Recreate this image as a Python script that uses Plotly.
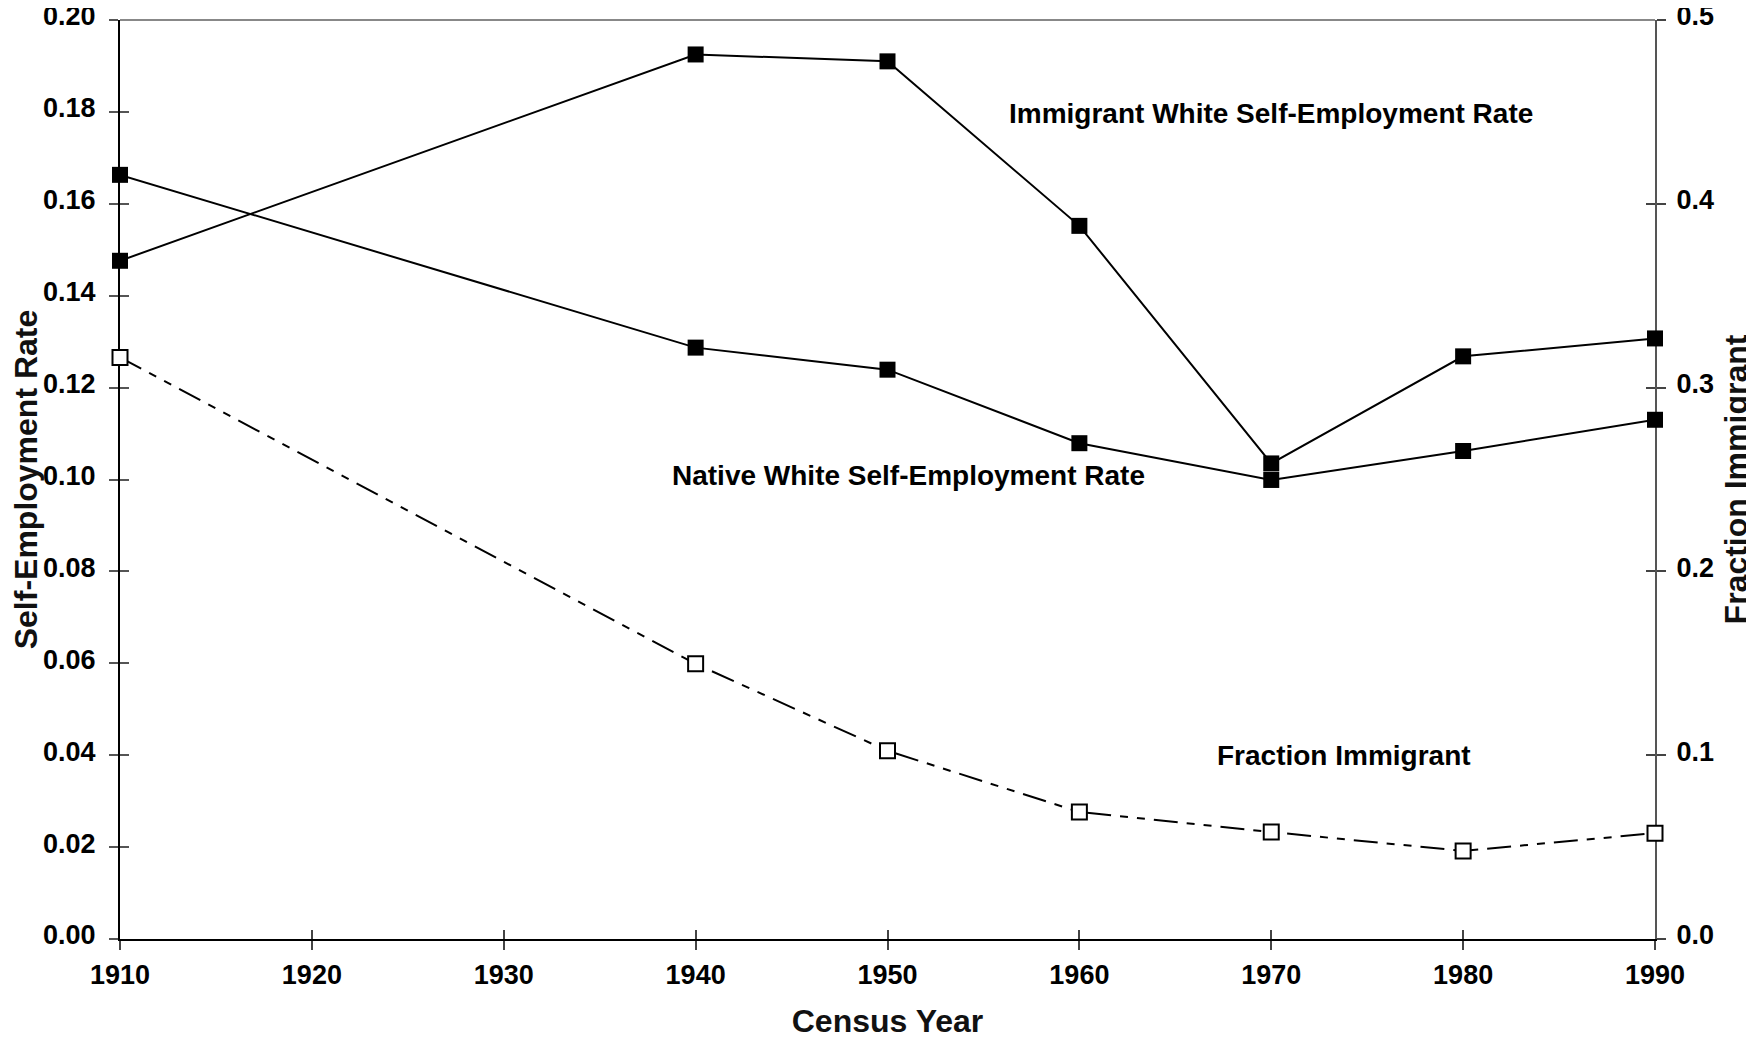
import plotly.graph_objects as go

years = [1910, 1940, 1950, 1960, 1970, 1980, 1990]
immigrant_rate = [0.1476, 0.1925, 0.1910, 0.1552, 0.1035, 0.1268, 0.1307]
native_rate = [0.1663, 0.1287, 0.1239, 0.1079, 0.0999, 0.1062, 0.1130]
fraction_immigrant = [0.3164, 0.1497, 0.1024, 0.0691, 0.0582, 0.0479, 0.0576]

x_ticks = [1910, 1920, 1930, 1940, 1950, 1960, 1970, 1980, 1990]
left_ticks = [0.00, 0.02, 0.04, 0.06, 0.08, 0.10, 0.12, 0.14, 0.16, 0.18, 0.20]
right_ticks = [0.0, 0.1, 0.2, 0.3, 0.4, 0.5]

labels = {
    "immigrant": ("Immigrant White Self-Employment Rate", 1970.0, 0.1797),
    "native": ("Native White Self-Employment Rate", 1951.1, 0.1008),
    "fraction": ("Fraction Immigrant", 1973.8, 0.0400),
}

FONT = "Liberation Sans, Arial, sans-serif"

fig = go.Figure()

fig.add_trace(go.Scatter(
    x=years, y=immigrant_rate, mode="lines+markers", name="Immigrant",
    line=dict(color="black", width=2),
    marker=dict(symbol="square", size=16, color="black"),
    cliponaxis=False, showlegend=False,
))
fig.add_trace(go.Scatter(
    x=years, y=native_rate, mode="lines+markers", name="Native",
    line=dict(color="black", width=2),
    marker=dict(symbol="square", size=16, color="black"),
    cliponaxis=False, showlegend=False,
))
fig.add_trace(go.Scatter(
    x=years, y=fraction_immigrant, mode="lines+markers", name="Fraction",
    yaxis="y2",
    line=dict(color="black", width=2, dash="24px,9px,8px,9px,8px,9px"),
    marker=dict(symbol="square", size=15, color="white",
                line=dict(color="black", width=2)),
    cliponaxis=False, showlegend=False,
))
# helper traces so the inside-tick overlay axes are drawn
fig.add_trace(go.Scatter(x=[], y=[], xaxis="x2", yaxis="y", showlegend=False, hoverinfo="skip"))
fig.add_trace(go.Scatter(x=[], y=[], xaxis="x", yaxis="y3", showlegend=False, hoverinfo="skip"))
fig.add_trace(go.Scatter(x=[], y=[], xaxis="x", yaxis="y4", showlegend=False, hoverinfo="skip"))

tickfont = dict(family=FONT, size=27, color="black", weight="bold")
titlefont = dict(family=FONT, size=32, color="#111", weight="bold")

for key, (txt, xx, yy) in labels.items():
    fig.add_annotation(x=xx, y=yy, xref="x", yref="y", text=txt, showarrow=False,
                       font=dict(family=FONT, size=28, color="black", weight="bold"),
                       xanchor="center", yanchor="middle")

# the page body adds an 8px offset, so the figure is 8px smaller than the window
fig.update_layout(
    width=1746, height=1032,
    margin=dict(l=112, r=99, t=12, b=101),
    paper_bgcolor="white", plot_bgcolor="white",
    xaxis=dict(range=[1910, 1990], tickvals=x_ticks, ticks="outside", ticklen=9,
               tickwidth=1.5, tickcolor="#444", showline=True, linecolor="black",
               linewidth=2, showgrid=False, zeroline=False, tickfont=tickfont,
               ticklabelstandoff=2, layer="below traces", automargin=False,
               ticklabeloverflow="allow",
               title=dict(text="Census Year", font=titlefont, standoff=20)),
    xaxis2=dict(range=[1910, 1990], overlaying="x", anchor="y", side="bottom",
                tickvals=x_ticks, ticks="inside", ticklen=9, tickwidth=1.5,
                tickcolor="#444", showticklabels=False, showline=False,
                showgrid=False, zeroline=False, layer="below traces", automargin=False),
    yaxis=dict(range=[0, 0.2], tickvals=left_ticks, tickformat=".2f", ticks="outside",
               ticklen=9, tickwidth=1.5, tickcolor="#555", showline=True,
               linecolor="black", linewidth=2, showgrid=False, zeroline=False,
               tickfont=tickfont, ticklabelstandoff=8, ticklabelshift=-4,
               layer="below traces", automargin=False, ticklabeloverflow="allow",
               title=dict(text="Self-Employment Rate", font=titlefont, standoff=16)),
    yaxis3=dict(range=[0, 0.2], overlaying="y", anchor="x", side="left",
                tickvals=left_ticks, ticks="inside", ticklen=9, tickwidth=1.5,
                tickcolor="#555", showticklabels=False, showline=False,
                showgrid=False, zeroline=False, layer="below traces", automargin=False),
    yaxis2=dict(range=[0, 0.5], overlaying="y", anchor="x", side="right",
                tickvals=right_ticks, tickformat=".1f", ticks="outside", ticklen=9,
                tickwidth=1.5, tickcolor="#444", showline=True, linecolor="#555",
                linewidth=2, showgrid=False, zeroline=False, tickfont=tickfont,
                ticklabelstandoff=5, ticklabelshift=-4, layer="below traces",
                automargin=False, ticklabeloverflow="allow",
                title=dict(text="Fraction Immigrant", font=titlefont, standoff=16)),
    yaxis4=dict(range=[0, 0.5], overlaying="y", anchor="x", side="right",
                tickvals=right_ticks, ticks="inside", ticklen=9, tickwidth=1.5,
                tickcolor="#444", showticklabels=False, showline=False,
                showgrid=False, zeroline=False, layer="below traces", automargin=False),
    shapes=[dict(type="line", xref="paper", yref="paper", x0=0, x1=1, y0=1, y1=1,
                 line=dict(color="#888", width=2), layer="below")],
)

fig.write_html("out.html")
